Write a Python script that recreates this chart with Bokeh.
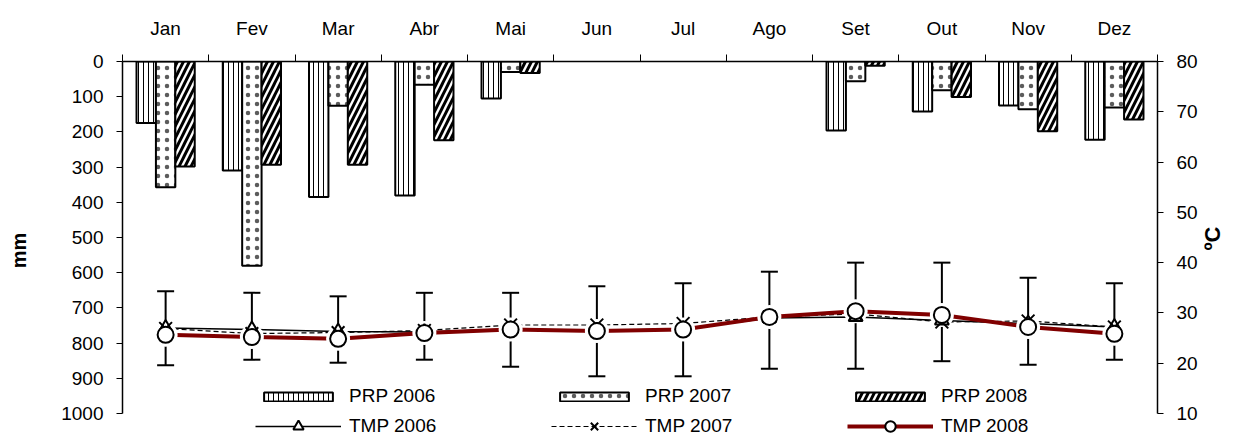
import math
from bokeh.plotting import figure
from bokeh.models import (Range1d, LinearAxis, FixedTicker, ColumnDataSource,
                          Whisker, TeeHead, Legend, LegendItem, CDSView, BooleanFilter)
from bokeh.transform import dodge
from bokeh.embed import file_html
from bokeh.resources import INLINE

months = ["Jan", "Fev", "Mar", "Abr", "Mai", "Jun", "Jul", "Ago", "Set", "Out", "Nov", "Dez"]
month_idx = list(range(1, 13))

prp_2006 = [175, 310, 385, 381, 105, 0, 0, 0, 196, 142, 125, 222]
prp_2007 = [357, 580, 126, 66, 30, 0, 0, 0, 56, 82, 136, 131]
prp_2008 = [298, 293, 293, 224, 33, 0, 0, 0, 12, 101, 198, 165]

tmp_2006 = [27.0, 26.7, 26.3, 26.2, 26.8, 26.5, 26.8, 29.0, 29.2, 28.5, 27.9, 27.2]
tmp_2007 = [26.9, 25.9, 26.1, 26.5, 27.6, 27.6, 27.9, 29.2, 29.8, 28.2, 28.4, 27.2]
tmp_2008 = [25.65, 25.2, 24.85, 26.0, 26.7, 26.4, 26.7, 29.2, 30.35, 29.6, 27.2, 25.85]
tmp_upper = [34.3, 34.0, 33.3, 34.0, 34.0, 35.3, 35.9, 38.2, 40.0, 40.0, 37.0, 35.9]
tmp_lower = [19.6, 20.7, 20.1, 20.7, 19.3, 17.4, 17.4, 18.9, 18.9, 20.4, 19.7, 20.7]

mm_ticks = list(range(0, 1001, 100))
c_ticks = list(range(10, 81, 10))

FONT = "Liberation Sans"
FS = "19px"

# frame spans y = 61..439 px; axes cover 61..413 px (352 px)
FRAME_TOP, AXIS_H, FRAME_H = 61, 352, 378
stretch = FRAME_H / AXIS_H

src = ColumnDataSource(dict(
    x=month_idx, month=months, zero=[0] * 12,
    prp_2006=prp_2006, prp_2007=prp_2007, prp_2008=prp_2008,
    tmp_2006=tmp_2006, tmp_2007=tmp_2007, tmp_2008=tmp_2008,
    tmp_upper=tmp_upper, tmp_lower=tmp_lower,
))

p = figure(width=1240, height=439, output_backend="svg", toolbar_location=None,
           x_range=Range1d(0.5, 12.5), y_range=Range1d(1000 * stretch, 0),
           x_axis_location="above", y_axis_location="left",
           min_border_left=122, min_border_right=78, min_border_top=FRAME_TOP,
           min_border_bottom=0)
p.outline_line_color = None
p.grid.visible = False
p.background_fill_color = "white"
p.border_fill_color = "white"
p.extra_y_ranges = {"temp": Range1d(80 - 70 * stretch, 80)}

# top (month) axis
xa = p.xaxis[0]
xa.ticker = FixedTicker(ticks=month_idx, minor_ticks=[i + 0.5 for i in range(0, 13)])
xa.major_label_overrides = {i: m for i, m in zip(month_idx, months)}
xa.major_tick_line_color = None
xa.major_tick_out = 0
xa.major_tick_in = 0
xa.minor_tick_out = 7
xa.minor_tick_in = 0
xa.minor_tick_line_color = "black"
xa.minor_tick_line_width = 1
xa.axis_line_color = "black"
xa.axis_line_width = 1.5
xa.major_label_standoff = 16
xa.major_label_text_font = FONT
xa.major_label_text_font_size = FS
xa.major_label_text_color = "black"

# left (mm) axis
ya = p.yaxis[0]
ya.ticker = FixedTicker(ticks=mm_ticks)
ya.bounds = (0, 1000)
ya.major_tick_out = 6
ya.major_tick_in = 0
ya.minor_tick_line_color = None
ya.axis_line_width = 1.5
ya.axis_line_color = "black"
ya.major_tick_line_color = "black"
ya.major_label_standoff = 13
ya.major_label_text_font = FONT
ya.major_label_text_font_size = FS
ya.major_label_text_color = "black"
ya.axis_label = "mm"
ya.axis_label_text_font = FONT
ya.axis_label_text_font_size = "20px"
ya.axis_label_text_font_style = "bold"
ya.axis_label_text_color = "black"
ya.axis_label_standoff = 28

# right (°C) axis
ra = LinearAxis(y_range_name="temp", ticker=FixedTicker(ticks=c_ticks), bounds=(10, 80))
ra.major_tick_out = 6
ra.major_tick_in = 0
ra.minor_tick_line_color = None
ra.axis_line_width = 1.5
ra.axis_line_color = "black"
ra.major_label_standoff = 13
ra.major_label_text_font = FONT
ra.major_label_text_font_size = FS
ra.major_label_text_color = "black"
ra.axis_label = "ºC"
ra.axis_label_text_font = FONT
ra.axis_label_text_font_size = "22px"
ra.axis_label_text_font_style = "bold"
ra.axis_label_text_color = "black"
ra.axis_label_standoff = 12
if "axis_label_orientation" in LinearAxis.properties():
    ra.axis_label_orientation = math.pi / 2
p.add_layout(ra, "right")

# precipitation bars (hanging from 0)
bw = 0.225
def nz(vals):
    return CDSView(filter=BooleanFilter([v > 0 for v in vals]))

b06 = p.vbar(x=dodge("x", -bw), top="zero", bottom="prp_2006", width=bw, source=src,
             view=nz(prp_2006),
             fill_color="white", line_color="black", line_width=2,
             hatch_pattern="vertical_line", hatch_scale=5, hatch_weight=1, hatch_color="black")
b07 = p.vbar(x="x", top="zero", bottom="prp_2007", width=bw, source=src,
             view=nz(prp_2007),
             fill_color="white", line_color="black", line_width=2,
             hatch_pattern="dot", hatch_scale=9, hatch_weight=0.5, hatch_color="#333333",
             hatch_alpha=0.8)
b08 = p.vbar(x=dodge("x", bw), top="zero", bottom="prp_2008", width=bw, source=src,
             view=nz(prp_2008),
             fill_color="white", line_color="black", line_width=2,
             hatch_pattern="right_diagonal_line", hatch_scale=12, hatch_weight=3, hatch_color="black")

# temperature range whiskers
wk = Whisker(source=src, base="x", upper="tmp_upper", lower="tmp_lower",
             y_range_name="temp", line_color="black", line_width=2, level="underlay",
             upper_head=TeeHead(size=17, line_width=2, line_color="black"),
             lower_head=TeeHead(size=17, line_width=2, line_color="black"))
p.add_layout(wk)

l06 = p.line("x", "tmp_2006", source=src, y_range_name="temp", line_color="black", line_width=1.5)
l07 = p.line("x", "tmp_2007", source=src, y_range_name="temp", line_color="black",
             line_width=1.2, line_dash="5 3")
l08 = p.line("x", "tmp_2008", source=src, y_range_name="temp", line_color="#800000", line_width=4)

p.scatter("x", "tmp_2008", source=src, y_range_name="temp", marker="circle", size=24,
          fill_color="white", line_color=None)

m06 = p.scatter("x", "tmp_2006", source=src, y_range_name="temp", marker="triangle", size=14,
                fill_color="white", line_color="black", line_width=2)
m07 = p.scatter("x", "tmp_2007", source=src, y_range_name="temp", marker="x", size=18,
                line_color="black", line_width=2)
m08 = p.scatter("x", "tmp_2008", source=src, y_range_name="temp", marker="circle", size=16,
                fill_color="white", line_color="black", line_width=2)

common = dict(orientation="horizontal", glyph_width=86, label_standoff=8, label_width=200,
              spacing=2, padding=0, margin=0, border_line_color=None,
              background_fill_alpha=0, label_text_font=FONT, label_text_font_size=FS,
              label_text_color="black")

leg1 = Legend(items=[LegendItem(label="PRP 2006", renderers=[b06]),
                     LegendItem(label="PRP 2007", renderers=[b07]),
                     LegendItem(label="PRP 2008", renderers=[b08])],
              location=(133, 32), glyph_height=11, **common)
leg2 = Legend(items=[LegendItem(label="TMP 2006", renderers=[l06, m06]),
                     LegendItem(label="TMP 2007", renderers=[l07, m07]),
                     LegendItem(label="TMP 2008", renderers=[l08, m08])],
              location=(133, 0), glyph_height=26, **common)
p.add_layout(leg1)
p.add_layout(leg2)

open("out.html", "w").write(file_html(p, INLINE))
